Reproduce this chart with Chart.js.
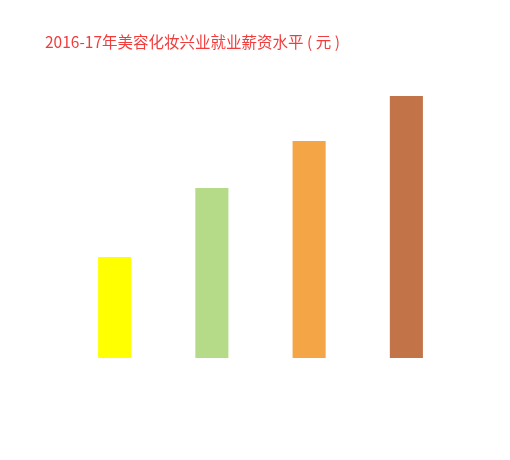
<!DOCTYPE html>
<html>
<head>
<meta charset="utf-8">
<script src="https://cdn.jsdelivr.net/npm/chart.js@4/dist/chart.umd.min.js"></script>
<style>
  html, body { margin: 0; padding: 0; background: #ffffff; }
  #wrap { width: 510px; height: 460px; }
</style>
</head>
<body>
<div id="wrap"><canvas id="c" width="510" height="460"></canvas></div>
<script>
// 2016-17 beauty & cosmetics industry salary levels (yuan)
const chartTitle = '2016-17年美容化妆兴业就业薪资水平 ( 元 )';
const categories = ['A', 'B', 'C', 'D'];
const salaries = [4040, 6800, 8680, 10480];
const barColors = ['#ffff00', '#b5db89', '#f4a545', '#c27347'];

const titlePlugin = {
  id: 'cornerTitle',
  afterDraw(chart) {
    const ctx = chart.ctx;
    ctx.save();
    ctx.fillStyle = '#f23c3c';
    ctx.font = '15.5px "Noto Sans CJK SC", "Noto Sans", sans-serif';
    ctx.textBaseline = 'alphabetic';
    ctx.textAlign = 'left';
    ctx.fillText(chartTitle, 45, 48);
    ctx.restore();
  }
};

new Chart(document.getElementById('c'), {
  type: 'bar',
  data: {
    labels: categories,
    datasets: [{
      data: salaries,
      backgroundColor: barColors,
      borderWidth: 0,
      barPercentage: 0.68,
      categoryPercentage: 0.5
    }]
  },
  options: {
    responsive: false,
    animation: false,
    layout: { padding: { top: 58, left: 66, right: 55, bottom: 102 } },
    plugins: {
      legend: { display: false },
      tooltip: { enabled: false },
      title: { display: false }
    },
    scales: {
      x: { display: false },
      y: { display: false, min: 0, max: 12000 }
    }
  },
  plugins: [titlePlugin]
});
</script>
</body>
</html>
